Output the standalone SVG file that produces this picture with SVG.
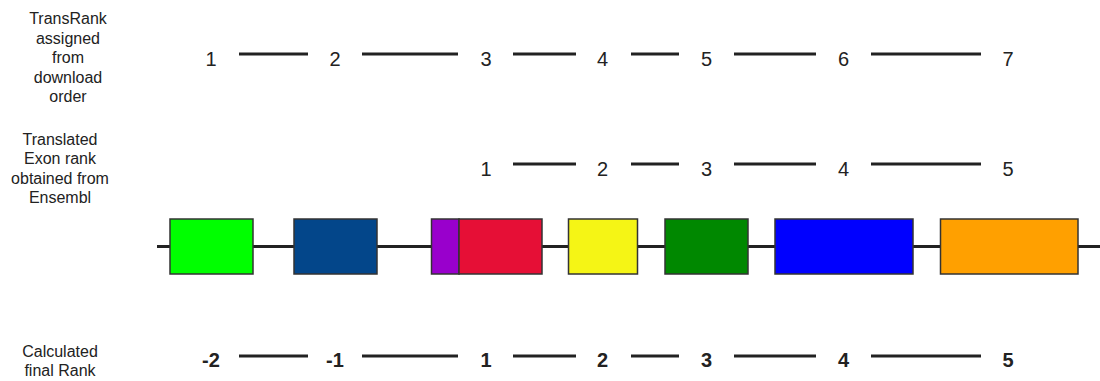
<svg xmlns="http://www.w3.org/2000/svg" width="1100" height="381" viewBox="0 0 1100 381">
<style>
.lbl{font-family:"Liberation Sans",Arial,sans-serif;font-size:16px;fill:#222;text-anchor:middle}
.num{font-family:"Liberation Sans",Arial,sans-serif;font-size:20px;fill:#222;text-anchor:middle}
.b{font-weight:bold}
.dash{stroke:#222;stroke-width:3}
.exon{stroke:#333;stroke-width:1.5}
</style>
<rect width="1100" height="381" fill="#fff"/>
<g id="labels">
<text class="lbl" x="68" y="24">TransRank</text>
<text class="lbl" x="68" y="43.5">assigned</text>
<text class="lbl" x="68" y="63">from</text>
<text class="lbl" x="68" y="82.5">download</text>
<text class="lbl" x="68" y="102">order</text>
<text class="lbl" x="60" y="144.5">Translated</text>
<text class="lbl" x="60" y="164">Exon rank</text>
<text class="lbl" x="60" y="183.5">obtained from</text>
<text class="lbl" x="60" y="203">Ensembl</text>
<text class="lbl" x="60" y="356.5">Calculated</text>
<text class="lbl" x="60" y="376">final Rank</text>
</g>
<g id="connectors">
<line x1="157" y1="246.5" x2="1100" y2="246.5" stroke="#222" stroke-width="3"/>
<g class="dash">
<line x1="239" y1="54" x2="308" y2="54"/>
<line x1="362" y1="54" x2="458" y2="54"/>
<line x1="513" y1="54" x2="576" y2="54"/>
<line x1="631" y1="54" x2="679" y2="54"/>
<line x1="734" y1="54" x2="816" y2="54"/>
<line x1="871" y1="54" x2="981" y2="54"/>
<line x1="513" y1="164" x2="576" y2="164"/>
<line x1="631" y1="164" x2="679" y2="164"/>
<line x1="734" y1="164" x2="816" y2="164"/>
<line x1="871" y1="164" x2="981" y2="164"/>
<line x1="239" y1="356" x2="308" y2="356"/>
<line x1="362" y1="356" x2="458" y2="356"/>
<line x1="513" y1="356" x2="576" y2="356"/>
<line x1="631" y1="356" x2="679" y2="356"/>
<line x1="734" y1="356" x2="816" y2="356"/>
<line x1="871" y1="356" x2="981" y2="356"/>
</g>
</g>
<g id="row-transrank">
<text class="num" x="211" y="66">1</text>
<text class="num" x="335" y="66">2</text>
<text class="num" x="486" y="66">3</text>
<text class="num" x="602.5" y="66">4</text>
<text class="num" x="706.5" y="66">5</text>
<text class="num" x="843.5" y="66">6</text>
<text class="num" x="1008" y="66">7</text>
</g>
<g id="row-ensembl">
<text class="num" x="486" y="176">1</text>
<text class="num" x="602.5" y="176">2</text>
<text class="num" x="706.5" y="176">3</text>
<text class="num" x="843.5" y="176">4</text>
<text class="num" x="1008" y="176">5</text>
</g>
<g id="row-final">
<text class="num b" x="211" y="366.5">-2</text>
<text class="num b" x="335" y="366.5">-1</text>
<text class="num b" x="486" y="366.5">1</text>
<text class="num b" x="602.5" y="366.5">2</text>
<text class="num b" x="706.5" y="366.5">3</text>
<text class="num b" x="843.5" y="366.5">4</text>
<text class="num b" x="1008" y="366.5">5</text>
</g>
<g id="exon1"><rect class="exon" x="170" y="219" width="83" height="55" fill="#00ff00"/></g>
<g id="exon2"><rect class="exon" x="294" y="219" width="83" height="55" fill="#03468a"/></g>
<g id="exon3"><rect class="exon" x="431.5" y="219" width="27.5" height="55" fill="#9900cc"/><rect class="exon" x="459" y="219" width="83" height="55" fill="#e60f36"/></g>
<g id="exon4"><rect class="exon" x="568.5" y="219" width="69" height="55" fill="#f5f515"/></g>
<g id="exon5"><rect class="exon" x="665" y="219" width="83" height="55" fill="#008800"/></g>
<g id="exon6"><rect class="exon" x="775" y="219" width="138" height="55" fill="#0000ff"/></g>
<g id="exon7"><rect class="exon" x="940.5" y="219" width="137.5" height="55" fill="#ffa000"/></g>
</svg>
